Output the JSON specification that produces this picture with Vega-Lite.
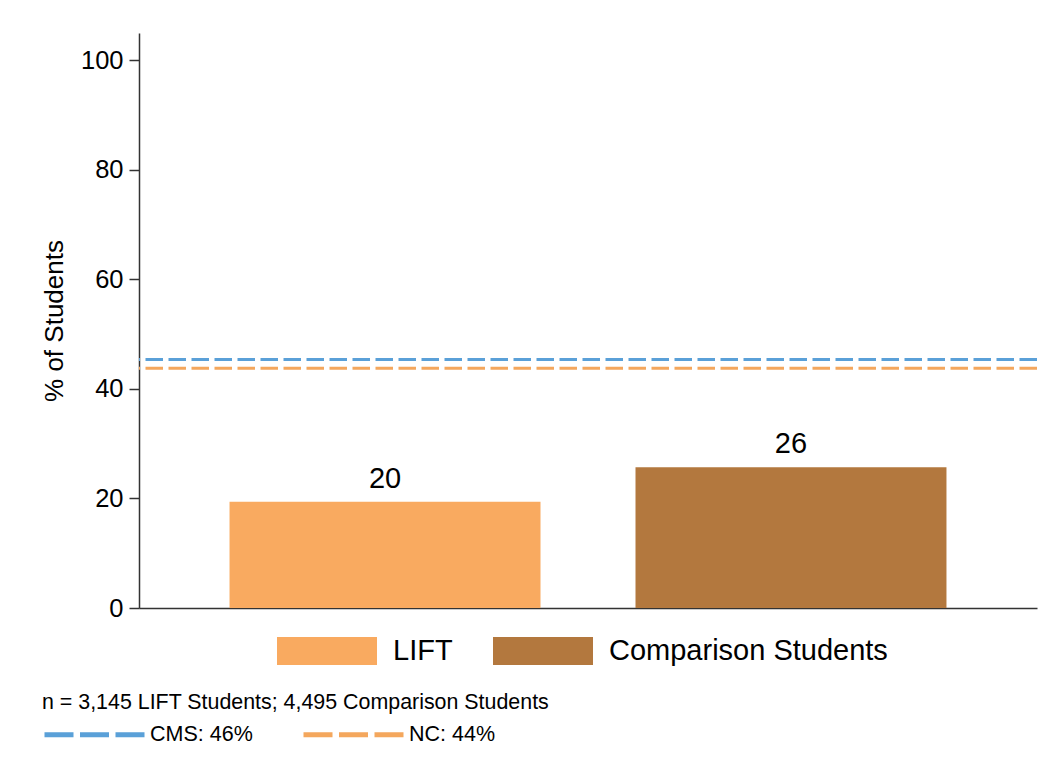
{
  "$schema": "https://vega.github.io/schema/vega-lite/v6.json",
  "autosize": "none",
  "width": 898,
  "height": 575,
  "padding": {"left": 139, "top": 33, "right": 13, "bottom": 164},
  "background": "white",
  "config": {
    "font": "Liberation Sans",
    "view": {"stroke": null},
    "axis": {"domainColor": "#333333", "domainWidth": 1.5, "tickColor": "#333333", "tickWidth": 1.5, "labelColor": "#000000", "titleColor": "#000000", "grid": false},
    "legend": {"padding": 0, "labelLimit": 0, "titleLimit": 0}
  },
  "datasets": {
    "bars": [
      {"group": "LIFT", "pct": 19.4, "label": "20"},
      {"group": "Comparison Students", "pct": 25.7, "label": "26"}
    ],
    "refs": [
      {"ref": "CMS: 46%", "pct": 45.4},
      {"ref": "NC: 44%", "pct": 43.8}
    ]
  },
  "layer": [
    {
      "data": {"name": "bars"},
      "mark": {"type": "bar"},
      "encoding": {
        "x": {"field": "group", "type": "nominal", "sort": ["LIFT", "Comparison Students"],
              "scale": {"paddingInner": 0.234, "paddingOuter": 0.223},
              "axis": {"labels": false, "ticks": false, "title": null, "domain": true}},
        "y": {"field": "pct", "type": "quantitative", "scale": {"domain": [0, 105], "nice": false},
              "axis": {"values": [0, 20, 40, 60, 80, 100], "tickSize": 10, "labelPadding": 6, "labelFontSize": 25.5,
                       "title": "% of Students", "titleFontSize": 26, "titleFontWeight": "normal", "titlePadding": 13}},
        "fill": {"field": "group", "type": "nominal", "sort": ["LIFT", "Comparison Students"],
                 "scale": {"domain": ["LIFT", "Comparison Students"], "range": ["#F9AA60", "#B3783E"]},
                 "legend": {"orient": "none", "legendX": 138, "legendY": 568, "direction": "horizontal", "title": null,
                            "symbolType": "M-1,-0.28L1,-0.28L1,0.28L-1,0.28Z", "symbolSize": 10000, "symbolStrokeWidth": 0,
                            "labelFontSize": 29, "labelColor": "#000000", "labelOffset": 16, "columnPadding": 40}}
      }
    },
    {
      "data": {"name": "bars"},
      "mark": {"type": "text", "baseline": "alphabetic", "dy": -14, "fontSize": 29, "color": "#000000"},
      "encoding": {
        "x": {"field": "group", "type": "nominal", "sort": ["LIFT", "Comparison Students"]},
        "y": {"field": "pct", "type": "quantitative"},
        "text": {"field": "label"}
      }
    },
    {
      "data": {"name": "refs"},
      "mark": {"type": "rule", "strokeWidth": 3, "strokeDash": [17.5, 5.5]},
      "encoding": {
        "y": {"field": "pct", "type": "quantitative"},
        "stroke": {"field": "ref", "type": "nominal",
                   "scale": {"domain": ["CMS: 46%", "NC: 44%"], "range": ["#5AA0D8", "#F4A75D"]},
                   "legend": {"orient": "none", "legendX": -97, "legendY": 659, "direction": "horizontal",
                              "title": "n = 3,145 LIFT Students; 4,495 Comparison Students",
                              "titleFontSize": 21.4, "titleFontWeight": "normal", "titleColor": "#000000", "titlePadding": -32,
                              "symbolType": "stroke", "symbolSize": 10201, "symbolStrokeWidth": 5, "symbolDash": [29, 6.5],
                              "labelFontSize": 21.5, "labelColor": "#000000", "labelOffset": 2, "columnPadding": 40}}
      }
    }
  ]
}
